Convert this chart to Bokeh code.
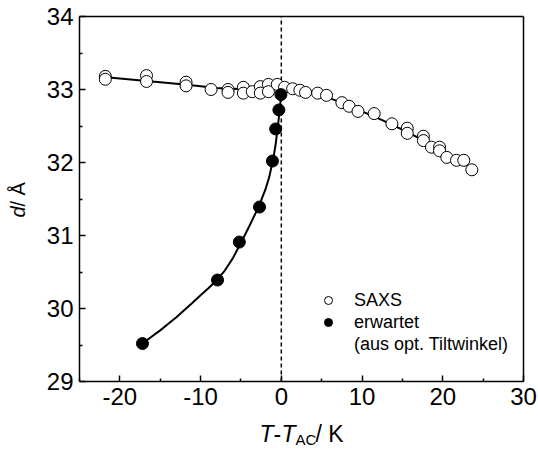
from bokeh.plotting import figure
from bokeh.models import Legend, LegendItem, Label, Range1d, FixedTicker, LinearAxis
from bokeh.embed import file_html
from bokeh.resources import INLINE
import math

# SAXS measurements
saxs_x = [-21.8, -21.8, -16.7, -16.7, -11.8, -11.8, -8.7, -6.6, -6.6, -4.7, -4.7, -3.6,
          -2.6, -2.6, -1.6, -1.6, -0.5, 0.4, 1.4, 2.3, 3.0, 4.5, 5.6, 7.5, 8.4, 9.5,
          11.5, 13.7, 15.6, 15.6, 17.6, 17.6, 18.6, 19.6, 19.6, 20.5, 21.7, 22.6, 23.6]
saxs_y = [33.18, 33.14, 33.19, 33.11, 33.10, 33.05, 33.00, 33.00, 32.96, 33.03, 32.95, 32.97,
          33.04, 32.95, 33.07, 32.97, 33.07, 33.03, 33.01, 32.99, 32.96, 32.95, 32.92, 32.82, 32.77, 32.70,
          32.67, 32.53, 32.47, 32.40, 32.36, 32.30, 32.21, 32.21, 32.16, 32.07, 32.03, 32.03, 31.90]

# SAXS fit line
saxs_fit_x = [-22.0, -17.0, -12.0, -8.0, -4.0, -1.0, 1.0, 3.0, 5.0, 7.5, 10.0, 12.5, 15.0, 17.5, 20.0, 22.0, 24.0]
saxs_fit_y = [33.17, 33.12, 33.07, 33.02, 33.00, 33.02, 33.02, 32.98, 32.92, 32.82, 32.70, 32.58, 32.45, 32.31, 32.15, 32.03, 31.90]

# expected from optical tilt angle
erw_x = [-17.2, -7.9, -5.2, -2.7, -1.1, -0.7, -0.3, -0.05]
erw_y = [29.52, 30.39, 30.91, 31.39, 32.02, 32.46, 32.72, 32.93]

# fit curve for expected values
erw_fit_x = [-17.2, -16.0, -15.0, -14.0, -13.0, -12.0, -11.0, -10.0, -9.0, -8.0, -7.0, -6.0, -5.0,
             -4.0, -3.0, -2.5, -2.0, -1.5, -1.0, -0.7, -0.4, -0.2, 0.0]
erw_fit_y = [29.52, 29.62, 29.70, 29.79, 29.88, 29.98, 30.08, 30.18, 30.28, 30.39, 30.52, 30.69, 30.90,
             31.12, 31.35, 31.48, 31.62, 31.80, 32.05, 32.25, 32.52, 32.72, 32.95]

# axis extents, ticks, transition marker
x_lim = [-25, 30]
y_lim = [29, 34]
x_ticks = [-20, -10, 0, 10, 20, 30]
x_minor = [-25, -15, -5, 5, 15, 25]
y_ticks = [29, 30, 31, 32, 33, 34]
y_minor = [29.5, 30.5, 31.5, 32.5, 33.5]
t_ac = [0, 0]

FONT = "Liberation Sans"
W, H = 538, 451
FL, FR, FT, FB = 79, 523, 16, 381  # data box in canvas pixels
sx = (FR - FL) / (x_lim[1] - x_lim[0])
sy = (FB - FT) / (y_lim[1] - y_lim[0])

p = figure(width=W, height=H, output_backend="svg", toolbar_location=None,
           x_axis_location=None, y_axis_location=None,
           x_range=Range1d(x_lim[0] - FL / sx, x_lim[1] + (W - FR) / sx),
           y_range=Range1d(y_lim[0] - (H - FB) / sy, y_lim[1] + FT / sy),
           min_border=0, min_border_left=0, min_border_right=0, min_border_top=0, min_border_bottom=0)
p.background_fill_color = "white"
p.border_fill_color = "white"
p.grid.visible = False
p.outline_line_color = None


def make_axis(loc, bounds, ticks, minor, labels, place):
    ax = LinearAxis(fixed_location=loc, bounds=tuple(bounds),
                    ticker=FixedTicker(ticks=ticks, minor_ticks=minor))
    ax.axis_line_width = 1.5
    ax.axis_line_color = "black"
    if labels:
        ax.major_tick_in = 6
        ax.major_tick_out = 0
        ax.minor_tick_in = 3
        ax.minor_tick_out = 0
        ax.major_tick_line_width = 1.5
        ax.minor_tick_line_width = 1.5
        ax.major_label_text_font = FONT
        ax.major_label_text_font_size = "24px"
        ax.major_label_text_color = "black"
        ax.major_label_standoff = 6
        ax.major_label_overrides = {t: str(t) for t in ticks}
    else:
        ax.major_tick_line_color = None
        ax.minor_tick_line_color = None
        ax.major_label_text_font_size = "0px"
        ax.major_label_text_alpha = 0
    p.add_layout(ax, place)


make_axis(y_lim[0], x_lim, x_ticks, x_minor, True, "below")
make_axis(x_lim[0], y_lim, y_ticks, y_minor, True, "left")
make_axis(y_lim[1], x_lim, [], [], False, "above")
make_axis(x_lim[1], y_lim, [], [], False, "right")

p.line(t_ac, y_lim, line_color="black", line_width=1.5, line_dash="4 3")

p.line(saxs_fit_x, saxs_fit_y, line_color="black", line_width=2)
p.line(erw_fit_x, erw_fit_y, line_color="black", line_width=2)
r_saxs = p.scatter(saxs_x, saxs_y, size=12, marker="circle", fill_color="white", line_color="black", line_width=1)
r_erw = p.scatter(erw_x, erw_y, size=12, marker="circle", fill_color="black", line_color="black", line_width=1)
r_dummy = p.scatter([], [], size=1, fill_alpha=0, line_alpha=0)

legend = Legend(items=[LegendItem(label="SAXS", renderers=[r_saxs]),
                       LegendItem(label="erwartet", renderers=[r_erw]),
                       LegendItem(label="(aus opt. Tiltwinkel)", renderers=[r_dummy])],
                location=(318, 96), padding=0, margin=0, spacing=0,
                glyph_width=20, glyph_height=22, label_height=22, label_standoff=16,
                label_text_font=FONT, label_text_font_size="18px", label_text_color="black",
                border_line_color=None, background_fill_alpha=0)
p.add_layout(legend)


def lab(x_abs, y_abs, text, size, italic=False, angle=0.0):
    p.add_layout(Label(x=x_abs, y=H - y_abs, x_units="screen", y_units="screen", text=text,
                       text_font=FONT, text_font_style="italic" if italic else "normal",
                       text_font_size=size, text_color="black", text_baseline="alphabetic",
                       angle=angle))


# x axis label: T-T_AC/ K
XB = 433
lab(259, XB, "T", "23px", italic=True)
lab(273, XB, "-", "23px")
lab(281, XB, "T", "23px", italic=True)
lab(295, XB + 6, "AC", "15px")
lab(315, XB, "/ K", "23px")

# y axis label: d/ Å (rotated)
lab(17, 217, "d", "20px", italic=True, angle=math.pi / 2)
lab(17, 206, "/ Å", "20px", angle=math.pi / 2)

open("out.html", "w").write(file_html(p, INLINE))
